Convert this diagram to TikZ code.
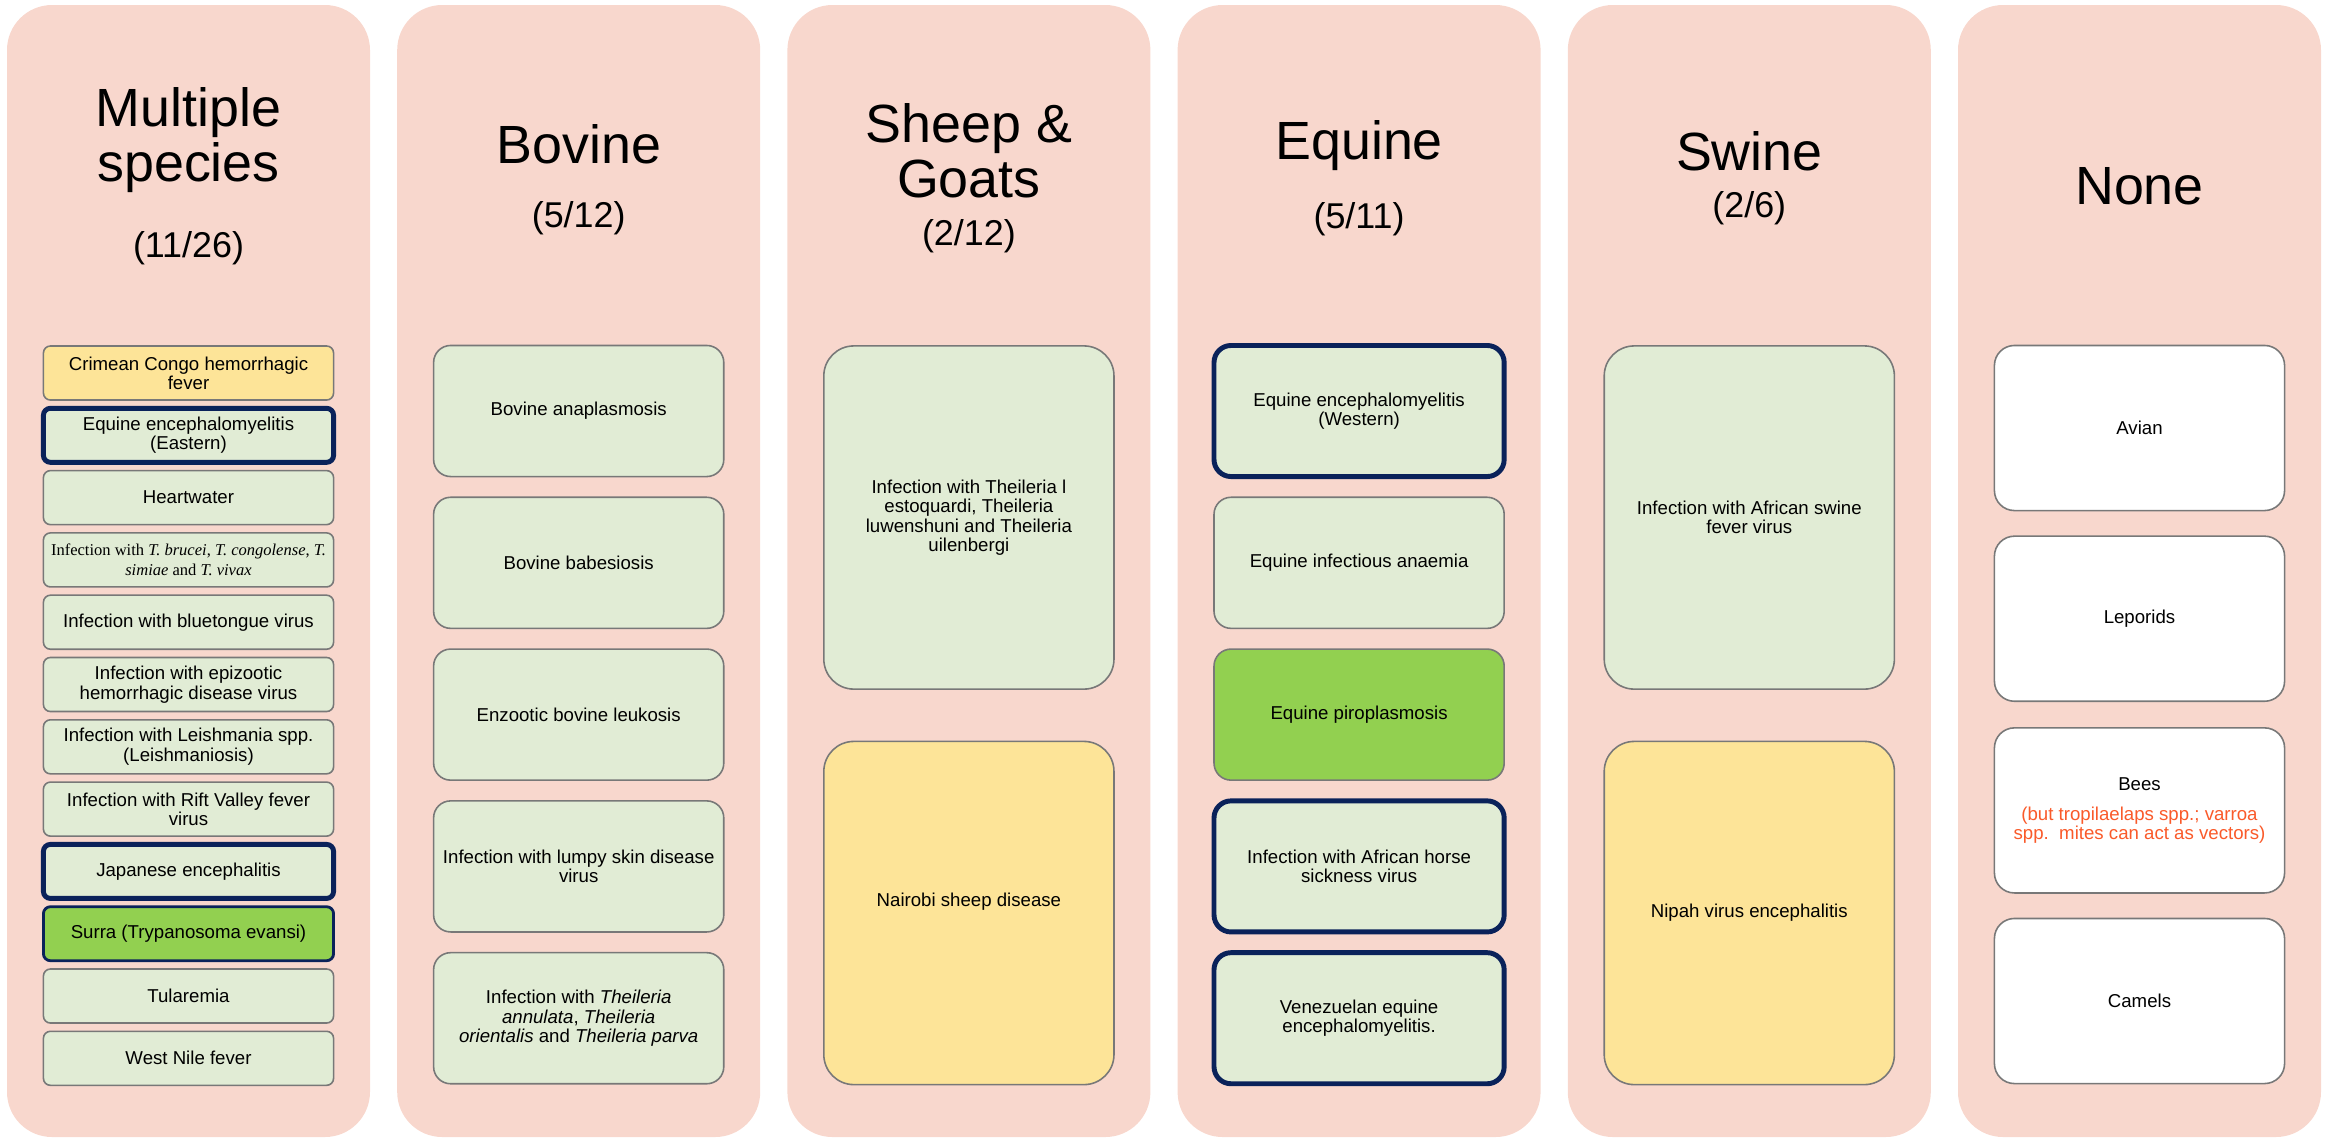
\documentclass[tikz,border=0pt]{standalone}
\usepackage{fontspec}
\setmainfont{Liberation Sans}
\newfontfamily\bookfont{Liberation Serif}

\definecolor{lanepink}{RGB}{248,215,205}
\definecolor{palegreen}{RGB}{225,236,213}
\definecolor{sand}{RGB}{253,228,152}
\definecolor{leafgreen}{RGB}{146,208,80}
\definecolor{navy}{RGB}{10,34,90}
\definecolor{edgegray}{RGB}{120,120,120}
\definecolor{mitered}{RGB}{250,90,42}

\begin{document}
\begin{tikzpicture}[x=0.01cm,y=-0.01cm,
    lane/.style={fill=lanepink,rounded corners=0.45cm},
    heading/.style={anchor=base,inner sep=0pt,font=\fontsize{15.3}{16}\selectfont},
    tally/.style={anchor=base,inner sep=0pt,font=\fontsize{10.2}{11}\selectfont},
    disease/.style={draw=edgegray,line width=0.45pt,fill=palegreen,minimum width=2.9cm,
        inner sep=0pt,align=center,font=\fontsize{5.3}{5.5}\selectfont},
    vector/.style={draw=navy,line width=1.4pt},
    minor/.style={fill=sand},
    highlight/.style={fill=leafgreen},
    nohost/.style={fill=white},
    short/.style={minimum height=0.54cm,rounded corners=0.07cm},
    medium/.style={minimum height=1.31cm,rounded corners=0.17cm},
    tall/.style={minimum height=3.43cm,rounded corners=0.3cm},
    block/.style={minimum height=1.65cm,rounded corners=0.2cm}]

    \useasboundingbox (0,0) rectangle (2338,1138);

    % Species lanes
    \foreach \cx in {188.5,578.7,968.9,1359.1,1749.3,2139.5}
        \fill [lane] (\cx-181.5,5) rectangle (\cx+181.5,1137);

    % Lane headings
    \node [heading] (hmulti) at (188.5,126) {Multiple};
    \node [heading] (hspecies) at (188.5,181) {species};
    \node [tally] (tmulti) at (188.5,257) {(11/26)};

    \node [heading] (hbovine) at (578.7,163) {Bovine};
    \node [tally] (tbovine) at (578.7,227) {(5/12)};

    \node [heading] (hsheep) at (968.9,142) {Sheep \&};
    \node [heading] (hgoats) at (968.9,197) {Goats};
    \node [tally] (tsheep) at (968.9,245) {(2/12)};

    \node [heading] (hequine) at (1359.1,159) {Equine};
    \node [tally] (tequine) at (1359.1,228) {(5/11)};

    \node [heading] (hswine) at (1749.3,170) {Swine};
    \node [tally] (tswine) at (1749.3,217) {(2/6)};

    \node [heading] (hnone) at (2139.5,204) {None};

    % Multiple species
    \node [disease,short,minor] (cchf) at (188.5,373) {Crimean Congo hemorrhagic\\fever};
    \node [disease,short,vector] (eee) at (188.5,435.3) {Equine encephalomyelitis\\(Eastern)};
    \node [disease,short] (heartwater) at (188.5,497.6) {Heartwater};
    \node [disease,short,font=\bookfont\fontsize{4.7}{5.5}\selectfont] (tryp) at (188.5,559.9)
        {Infection with \textit{T. brucei}, \textit{T. congolense}, \textit{T.}\\\textit{simiae} and \textit{T. vivax}};
    \node [disease,short] (bluetongue) at (188.5,622.2) {Infection with bluetongue virus};
    \node [disease,short] (ehd) at (188.5,684.5) {Infection with epizootic\\hemorrhagic disease virus};
    \node [disease,short] (leish) at (188.5,746.8) {Infection with Leishmania spp.\\(Leishmaniosis)};
    \node [disease,short] (rvf) at (188.5,809.1) {Infection with Rift Valley fever\\virus};
    \node [disease,short,vector] (je) at (188.5,871.4) {Japanese encephalitis};
    \node [disease,short,highlight,draw=navy,line width=0.8pt] (surra) at (188.5,933.7) {Surra (Trypanosoma evansi)};
    \node [disease,short] (tularemia) at (188.5,996) {Tularemia};
    \node [disease,short] (wnf) at (188.5,1058.3) {West Nile fever};

    % Bovine
    \node [disease,medium] (bovana) at (578.7,411) {Bovine anaplasmosis};
    \node [disease,medium] (bovbab) at (578.7,562.8) {Bovine babesiosis};
    \node [disease,medium] (ebl) at (578.7,714.6) {Enzootic bovine leukosis};
    \node [disease,medium] (lsd) at (578.7,866.4) {Infection with lumpy skin disease\\virus};
    \node [disease,medium] (theil) at (578.7,1018.2)
        {Infection with \textit{Theileria}\\\textit{annulata}, \textit{Theileria}\\\textit{orientalis} and \textit{Theileria parva}};

    % Sheep & goats
    \node [disease,tall] (theilsg) at (968.9,517.5)
        {Infection with Theileria l\\estoquardi, Theileria\\luwenshuni and Theileria\\uilenbergi};
    \node [disease,tall,minor,text depth=0.27cm] (nsd) at (968.9,913) {Nairobi sheep disease};

    % Equine
    \node [disease,medium,vector] (wee) at (1359.1,411) {Equine encephalomyelitis\\(Western)};
    \node [disease,medium] (eia) at (1359.1,562.8) {Equine infectious anaemia};
    \node [disease,medium,highlight] (piro) at (1359.1,714.6) {Equine piroplasmosis};
    \node [disease,medium,vector] (ahs) at (1359.1,866.4) {Infection with African horse\\sickness virus};
    \node [disease,medium,vector] (vee) at (1359.1,1018.2) {Venezuelan equine\\encephalomyelitis.};

    % Swine
    \node [disease,tall] (asf) at (1749.3,517.5) {Infection with African swine\\fever virus};
    \node [disease,tall,minor] (nipah) at (1749.3,913) {Nipah virus encephalitis};

    % None
    \node [disease,block,nohost] (avian) at (2139.5,428) {Avian};
    \node [disease,block,nohost] (leporids) at (2139.5,618.7) {Leporids};
    \node [disease,block,nohost] (bees) at (2139.5,810.4)
        {Bees\\[3pt]\textcolor{mitered}{(but tropilaelaps spp.; varroa}\\\textcolor{mitered}{spp.~~mites can act as vectors)}};
    \node [disease,block,nohost] (camels) at (2139.5,1001) {Camels};

\end{tikzpicture}
\end{document}
